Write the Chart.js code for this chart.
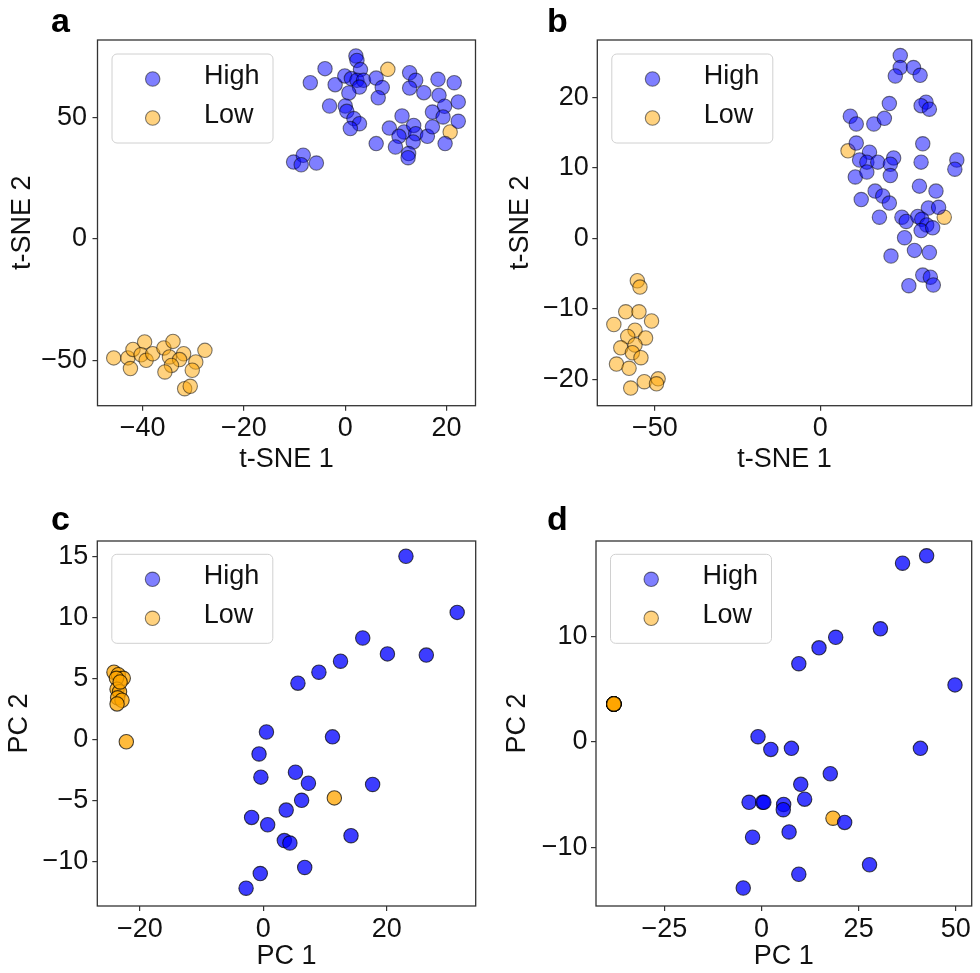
<!DOCTYPE html>
<html><head><meta charset="utf-8">
<script src="https://cdn.jsdelivr.net/npm/chart.js@4/dist/chart.umd.min.js"></script>
<style>
html,body{margin:0;padding:0;background:#fff;}
#wrap{position:relative;width:980px;height:973px;background:#fff;overflow:hidden;}
.panel{position:absolute;}
.panel canvas{display:block;}
.lbl{position:absolute;font:bold 34px "Liberation Sans",Arial,sans-serif;line-height:34px;color:#000;}
</style></head><body>
<div id="wrap">
  <div class="panel" style="left:0;top:0;width:490px;height:486px"><canvas id="ca" width="490" height="486"></canvas></div>
  <div class="panel" style="left:490px;top:0;width:490px;height:486px"><canvas id="cb" width="490" height="486"></canvas></div>
  <div class="panel" style="left:0;top:486px;width:490px;height:487px"><canvas id="cc" width="490" height="487"></canvas></div>
  <div class="panel" style="left:490px;top:486px;width:490px;height:487px"><canvas id="cd" width="490" height="487"></canvas></div>
  <div class="lbl" style="left:51px;top:3px">a</div>
  <div class="lbl" style="left:547px;top:3px">b</div>
  <div class="lbl" style="left:51px;top:501px">c</div>
  <div class="lbl" style="left:547px;top:501px">d</div>
</div>
<script>
// ---------- DATA ----------
const seriesNames = ["High", "Low"];

// panel a : t-SNE
const aHighX = [2.1, 2.3, 3.0, -4.0, -6.9, -2.0, -0.1, 1.2, 2.3, 3.6, 2.8, 0.7, 6.1, 7.3, 6.5, -3.1, 0.0, 0.3, 1.7, 2.8, 1.0, 12.7, 13.9, 12.7, 15.5, 18.3, 21.5, 18.5, 19.6, 22.3, 17.2, 19.3, 22.3, 11.2, 8.7, 11.6, 13.5, 10.6, 13.9, 16.2, 17.2, 6.1, 9.9, 13.4, 12.5, 12.4, 19.7, -10.2, -8.3, -8.7, -5.7];
const aHighY = [75.4, 73.6, 69.8, 70.2, 64.4, 63.6, 67.2, 66.1, 65.4, 65.4, 62.6, 60.2, 66.3, 62.4, 58.2, 54.8, 54.8, 52.6, 49.6, 47.5, 45.5, 68.5, 65.4, 62.2, 60.3, 65.8, 64.4, 59.2, 54.7, 56.5, 52.3, 50.3, 48.5, 50.7, 45.7, 44.1, 46.8, 42.3, 43.4, 42.3, 46.2, 39.3, 37.9, 40.0, 35.2, 33.5, 39.3, 31.7, 34.5, 30.6, 31.3];
const aLowX = [8.4, 20.7, -45.7, -42.9, -41.9, -39.6, -42.4, -40.3, -39.3, -38.0, -35.8, -34.0, -34.7, -31.9, -32.7, -34.3, -35.6, -29.5, -30.2, -27.7, -31.7, -30.6];
const aLowY = [69.9, 44.1, -49.0, -49.0, -45.5, -42.4, -53.4, -47.7, -50.0, -47.3, -44.9, -42.2, -48.6, -47.3, -49.7, -52.1, -54.8, -50.7, -54.1, -45.9, -61.7, -60.7];
const aTicksX = [-40, -20, 0, 20];
const aTicksY = [-50, 0, 50];

// panel b : t-SNE
const bHighX = [24.2, 24.2, 22.7, 28.2, 30.2, 20.9, 32.0, 30.5, 33.0, 9.1, 10.9, 16.2, 19.4, 31.0, 10.9, 14.9, 11.9, 14.1, 17.4, 22.2, 21.2, 21.2, 30.5, 41.3, 40.7, 10.6, 14.1, 12.4, 16.6, 18.9, 20.9, 30.0, 35.0, 32.7, 35.8, 17.9, 24.7, 26.0, 29.5, 30.7, 32.2, 30.5, 34.0, 25.5, 21.4, 28.5, 33.0, 31.0, 33.3, 34.2, 26.8];
const bHighY = [25.9, 24.2, 23.0, 24.2, 23.1, 19.1, 19.3, 18.8, 18.3, 17.3, 16.2, 16.2, 17.0, 13.4, 13.5, 12.2, 11.1, 10.8, 10.8, 11.4, 10.5, 8.9, 10.8, 11.1, 9.8, 8.7, 9.4, 5.5, 6.7, 6.0, 5.0, 7.4, 6.7, 4.3, 4.4, 3.0, 3.0, 2.4, 3.1, 2.7, 1.9, 1.1, 1.5, 0.1, -2.5, -1.7, -2.0, -5.2, -5.5, -6.6, -6.7];
const bLowX = [8.4, 37.5, -55.3, -54.5, -58.8, -54.8, -51.0, -62.4, -56.0, -58.2, -52.8, -60.3, -56.0, -56.8, -54.2, -61.6, -57.8, -53.2, -49.0, -49.5, -57.3];
const bLowY = [12.4, 3.0, -6.0, -6.9, -10.4, -10.4, -11.7, -12.2, -13.0, -13.9, -14.1, -15.5, -15.1, -16.2, -16.9, -17.8, -18.4, -20.3, -19.9, -20.6, -21.2];
const bTicksX = [-50, 0];
const bTicksY = [-20, -10, 0, 10, 20];

// panel c : PCA
const cHighX = [23.1, 31.4, 16.1, 20.1, 26.4, 12.5, 9.0, 5.6, 0.5, 11.2, -0.7, -0.4, 5.2, 7.3, 17.7, 6.2, 3.7, -1.9, 0.7, 14.2, 3.4, 4.3, 6.7, -0.5, -2.8];
const cHighY = [15.0, 10.4, 8.3, 7.0, 6.9, 6.4, 5.5, 4.6, 0.6, 0.2, -1.2, -3.1, -2.7, -3.6, -3.7, -5.0, -5.8, -6.4, -7.0, -7.9, -8.3, -8.5, -10.5, -11.0, -12.2];
const cLowX = [11.5, -22.2, -24.2, -23.5, -22.7, -23.8, -23.7, -23.3, -23.6, -22.9, -23.7, -23.2];
const cLowY = [-4.8, -0.2, 5.5, 5.3, 5.0, 5.0, 4.1, 3.9, 3.4, 3.2, 2.9, 4.7];
const cTicksX = [-20, 0, 20];
const cTicksY = [-10, -5, 0, 5, 10, 15];

// panel d : PCA
const dHighX = [42.5, 36.3, 30.6, 19.1, 14.8, 9.6, 49.8, -0.9, 2.4, 7.7, 40.9, 17.7, 10.1, 11.1, -3.2, 0.3, 0.6, 5.7, 5.6, 21.4, -2.3, 7.1, 27.8, 9.6, -4.7];
const dHighY = [17.6, 16.9, 10.7, 9.9, 8.9, 7.4, 5.4, 0.5, -0.7, -0.6, -0.6, -3.0, -4.0, -5.4, -5.7, -5.7, -5.7, -5.9, -6.4, -7.6, -9.0, -8.5, -11.6, -12.5, -13.8];
const dLowX = [18.4, -38.0, -38.0, -38.0, -38.0, -38.0, -38.0, -38.0, -38.0, -38.0, -38.0, -38.0];
const dLowY = [-7.2, 3.6, 3.6, 3.6, 3.6, 3.6, 3.6, 3.6, 3.6, 3.6, 3.6, 3.6];
const dTicksX = [-25, 0, 25, 50];
const dTicksY = [-10, 0, 10];

// ---------- RENDERING ----------
const FONT = '"Liberation Sans", Arial, Helvetica, sans-serif';
const FS = 27;

function pts(xs, ys) { return xs.map((x, i) => ({ x: x, y: ys[i] })); }

const frameAndLegend = {
  id: 'frameAndLegend',
  afterDatasetsDraw(chart, args, o) {
    const ca = chart.chartArea, ctx = chart.ctx;
    ctx.save();
    // axes frame
    ctx.strokeStyle = '#333';
    ctx.lineWidth = 1.3;
    ctx.strokeRect(ca.left, ca.top, ca.right - ca.left, ca.bottom - ca.top);
    // legend
    const bx = ca.left + 14.5, by = ca.top + o.dy, bw = 161, bh = 89, r = 5;
    ctx.beginPath();
    ctx.moveTo(bx + r, by);
    ctx.arcTo(bx + bw, by, bx + bw, by + bh, r);
    ctx.arcTo(bx + bw, by + bh, bx, by + bh, r);
    ctx.arcTo(bx, by + bh, bx, by, r);
    ctx.arcTo(bx, by, bx + bw, by, r);
    ctx.closePath();
    ctx.fillStyle = 'rgba(255,255,255,0.8)';
    ctx.fill();
    ctx.strokeStyle = '#d0d0d0';
    ctx.lineWidth = 1;
    ctx.stroke();
    const rows = [25, 64];
    chart.data.datasets.forEach((ds, i) => {
      const cy = by + rows[i];
      ctx.beginPath();
      ctx.arc(bx + 40.7, cy, 7.2, 0, Math.PI * 2);
      ctx.fillStyle = o.fills[i];
      ctx.fill();
      ctx.strokeStyle = 'rgba(0,0,0,0.5)';
      ctx.lineWidth = 1.1;
      ctx.stroke();
      ctx.fillStyle = '#111';
      ctx.font = FS + 'px ' + FONT;
      ctx.textAlign = 'left';
      ctx.textBaseline = 'middle';
      ctx.fillText(ds.label, bx + 92, cy - 2.5);
    });
    ctx.restore();
  }
};

function makeChart(id, cfg) {
  const ctx = document.getElementById(id);
  const fillH = 'rgba(0,0,255,' + cfg.alpha + ')';
  const fillL = 'rgba(255,165,0,' + cfg.alpha + ')';
  const edge = 'rgba(0,0,0,' + cfg.edgeAlpha + ')';
  const tickFont = { family: FONT, size: FS };
  return new Chart(ctx, {
    type: 'scatter',
    data: {
      datasets: [
        { label: seriesNames[0], data: pts(cfg.hx, cfg.hy), backgroundColor: fillH, borderColor: edge, borderWidth: 1.1, pointRadius: 7.2, pointHoverRadius: 7.2 },
        { label: seriesNames[1], data: pts(cfg.lx, cfg.ly), backgroundColor: fillL, borderColor: edge, borderWidth: 1.1, pointRadius: 7.2, pointHoverRadius: 7.2 }
      ]
    },
    options: {
      responsive: false,
      animation: false,
      events: [],
      layout: { padding: { left: 0, top: cfg.padTop, right: cfg.padRight, bottom: 0 } },
      plugins: {
        legend: { display: false },
        tooltip: { enabled: false },
        frameAndLegend: { dy: cfg.legDy, fills: ['rgba(0,0,255,0.5)', 'rgba(255,165,0,0.5)'] }
      },
      scales: {
        x: {
          type: 'linear', min: cfg.xmin, max: cfg.xmax,
          afterBuildTicks: s => { s.ticks = cfg.tx.map(v => ({ value: v })); },
          afterFit: s => { s.height = cfg.xH; },
          grid: { display: true, drawOnChartArea: false, drawTicks: true, tickLength: 5, color: '#333', lineWidth: 1.2 },
          border: { display: false },
          ticks: { font: tickFont, color: '#111', padding: cfg.xTickPad, maxRotation: 0, autoSkip: false, callback: v => String(v).replace('-', '\u2212') },
          title: { display: true, text: cfg.xTitle, font: { family: FONT, size: FS }, color: '#111', padding: { top: 0, bottom: cfg.xTitlePad } }
        },
        y: {
          type: 'linear', min: cfg.ymin, max: cfg.ymax,
          afterBuildTicks: s => { s.ticks = cfg.ty.map(v => ({ value: v })); },
          afterFit: s => { s.width = cfg.yW; },
          grid: { display: true, drawOnChartArea: false, drawTicks: true, tickLength: 5, color: '#333', lineWidth: 1.2 },
          border: { display: false },
          ticks: { font: tickFont, color: '#111', padding: cfg.yTickPad, autoSkip: false, callback: v => String(v).replace('-', '\u2212') },
          title: { display: true, text: cfg.yTitle, font: { family: FONT, size: FS }, color: '#111', padding: { top: cfg.yTitlePad, bottom: 0 } }
        }
      }
    },
    plugins: [frameAndLegend]
  });
}

makeChart('ca', { hx: aHighX, hy: aHighY, lx: aLowX, ly: aLowY, tx: aTicksX, ty: aTicksY,
  xmin: -48.9, xmax: 25.7, ymin: -68.7, ymax: 82, alpha: 0.5, edgeAlpha: 0.5,
  padTop: 40, padRight: 14.5, yW: 97.5, xH: 80.3, xTickPad: 2, yTickPad: 5.5,
  xTitle: 't-SNE 1', yTitle: 't-SNE 2', xTitlePad: 10, yTitlePad: 6, legDy: 14 });

makeChart('cb', { hx: bHighX, hy: bHighY, lx: bLowX, ly: bLowY, tx: bTicksX, ty: bTicksY,
  xmin: -67.4, xmax: 45.8, ymin: -23.7, ymax: 28.1, alpha: 0.5, edgeAlpha: 0.5,
  padTop: 40, padRight: 7, yW: 107.3, xH: 80.3, xTickPad: 2, yTickPad: 3.5,
  xTitle: 't-SNE 1', yTitle: 't-SNE 2', xTitlePad: 10, yTitlePad: 14.5, legDy: 14 });

makeChart('cc', { hx: cHighX, hy: cHighY, lx: cLowX, ly: cLowY, tx: cTicksX, ty: cTicksY,
  xmin: -26.9, xmax: 34.4, ymin: -13.66, ymax: 16.25, alpha: 0.76, edgeAlpha: 0.7,
  padTop: 55, padRight: 14.3, yW: 97.3, xH: 67, xTickPad: 2, yTickPad: 4,
  xTitle: 'PC 1', yTitle: 'PC 2', xTitlePad: 0, yTitlePad: 3.5, legDy: 13.3 });

makeChart('cd', { hx: dHighX, hy: dHighY, lx: dLowX, ly: dLowY, tx: dTicksX, ty: dTicksY,
  xmin: -42.6, xmax: 54.1, ymin: -15.5, ymax: 19.0, alpha: 0.76, edgeAlpha: 0.7,
  padTop: 55, padRight: 6, yW: 106, xH: 67, xTickPad: 2, yTickPad: 3.5,
  xTitle: 'PC 1', yTitle: 'PC 2', xTitlePad: 0, yTitlePad: 11, legDy: 13.3 });
</script>
</body></html>
